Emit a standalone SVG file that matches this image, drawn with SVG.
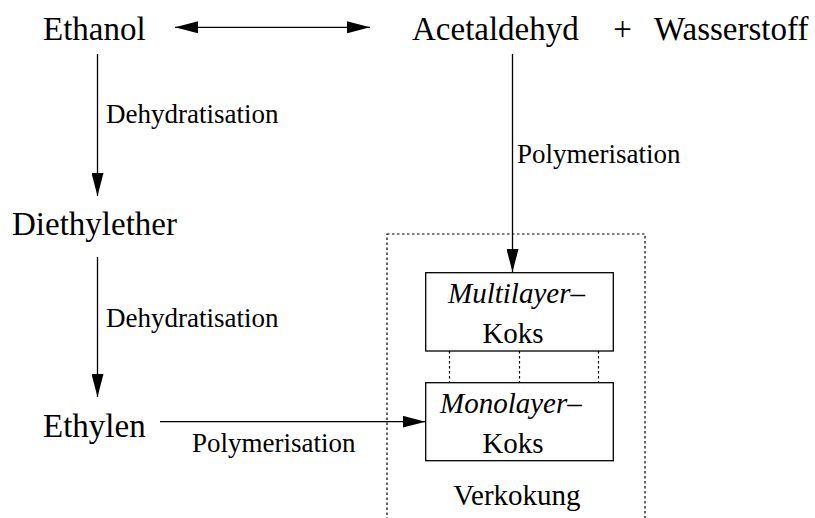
<svg xmlns="http://www.w3.org/2000/svg" width="815" height="518" viewBox="0 0 815 518">
<style>
text{font-family:'Liberation Serif','Times New Roman',serif;fill:#000}
.big{font-size:33px}
.lab{font-size:27px}
.box{font-size:29px}
.e{stroke:#000;stroke-width:1.3;fill:none}
.dot{stroke:#000;stroke-width:1.2;fill:none;stroke-dasharray:2.5,2.5}
.n{fill:#fff;stroke:#000;stroke-width:1.3}
</style>
<defs>
<marker id="ah" markerUnits="userSpaceOnUse" markerWidth="24" markerHeight="12" refX="23" refY="6" orient="auto-start-reverse">
<path d="M0,0 L23,6 L0,12 z" fill="#000"/>
</marker>
</defs>
<rect width="815" height="518" fill="#fff"/>
<g id="verkokung">
<rect x="387" y="234" width="258" height="300" class="dot"/>
<text class="box" font-family="Liberation Serif" x="517" y="505" text-anchor="middle">Verkokung</text>
</g>
<g id="connectors">
<line x1="175" y1="27.3" x2="370" y2="27.3" class="e" marker-start="url(#ah)" marker-end="url(#ah)"/>
<line x1="97.5" y1="54" x2="97.5" y2="196" class="e" marker-end="url(#ah)"/>
<line x1="97.5" y1="257" x2="97.5" y2="397" class="e" marker-end="url(#ah)"/>
<line x1="512.5" y1="54" x2="512.5" y2="272" class="e" marker-end="url(#ah)"/>
<line x1="160" y1="421.7" x2="425.5" y2="421.7" class="e" marker-end="url(#ah)"/>
<line x1="449.5" y1="351" x2="449.5" y2="383" class="dot"/>
<line x1="519.5" y1="351" x2="519.5" y2="383" class="dot"/>
<line x1="598.5" y1="351" x2="598.5" y2="383" class="dot"/>
<text class="lab" font-family="Liberation Serif" x="106" y="123">Dehydratisation</text>
<text class="lab" font-family="Liberation Serif" x="106" y="327">Dehydratisation</text>
<text class="lab" font-family="Liberation Serif" x="517" y="163">Polymerisation</text>
<text class="lab" font-family="Liberation Serif" x="192" y="452">Polymerisation</text>
</g>
<g id="ethanol"><text class="big" font-family="Liberation Serif" x="43" y="40">Ethanol</text></g>
<g id="acetaldehyd"><text class="big" font-family="Liberation Serif" x="412" y="40">Acetaldehyd</text></g>
<g id="plus"><text class="big" font-family="Liberation Serif" x="622.5" y="40" text-anchor="middle">+</text></g>
<g id="wasserstoff"><text class="big" font-family="Liberation Serif" x="654" y="40">Wasserstoff</text></g>
<g id="diethylether"><text class="big" font-family="Liberation Serif" x="12" y="235">Diethylether</text></g>
<g id="ethylen"><text class="big" font-family="Liberation Serif" x="43" y="437">Ethylen</text></g>
<g id="multilayer">
<rect x="425.7" y="272.7" width="187.6" height="78.3" class="n"/>
<text class="box" font-family="Liberation Serif" x="448" y="303"><tspan font-style="italic">Multilayer</tspan>&#8211;</text>
<text class="box" font-family="Liberation Serif" x="513" y="343" text-anchor="middle">Koks</text>
</g>
<g id="monolayer">
<rect x="425.7" y="382.7" width="187.6" height="78" class="n"/>
<text class="box" font-family="Liberation Serif" x="440" y="413"><tspan font-style="italic">Monolayer</tspan>&#8211;</text>
<text class="box" font-family="Liberation Serif" x="513" y="453" text-anchor="middle">Koks</text>
</g>
</svg>
